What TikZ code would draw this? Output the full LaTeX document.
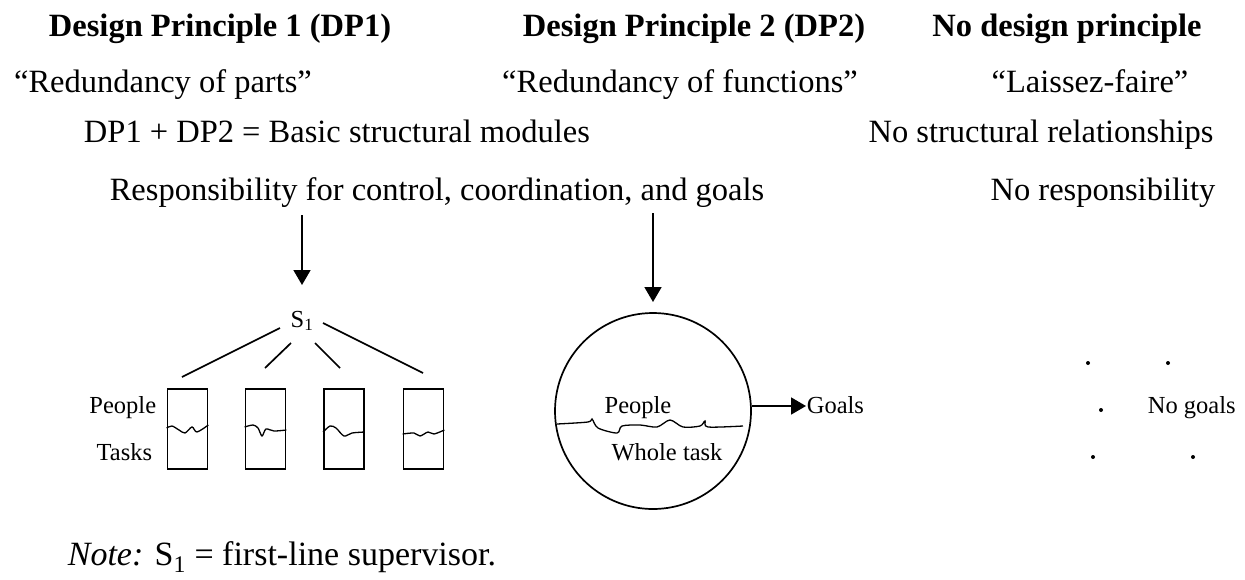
\documentclass[tikz,border=0pt]{standalone}
\usepackage{fontspec}
\setmainfont{Liberation Serif}
\usetikzlibrary{positioning, calc, arrows.meta}

\tikzset{
	big/.style={font=\fontsize{32.5}{39}\selectfont, inner sep=0pt, anchor=base},
	heading/.style={big, font=\fontsize{32.5}{39}\selectfont\bfseries},
	small/.style={font=\fontsize{24.5}{29}\selectfont, inner sep=0pt, anchor=base},
	unitbox/.style={draw, minimum width=40pt, minimum height=80pt, inner sep=0pt},
	dot/.style={circle, fill, inner sep=0pt, minimum size=4pt},
}

\begin{document}
\begin{tikzpicture}[x=1pt, y=-1pt, line width=1.7pt, >={Triangle[length=15pt, width=17pt]}]
		\useasboundingbox (0, 0) rectangle (1245, 579);

		% column heads
		\node[heading] (H1) at (220, 36) {Design Principle 1 (DP1)};
		\node[heading] (H2) at (694, 36) {Design Principle 2 (DP2)};
		\node[heading] (H3) at (1067, 36) {No design principle};

		\node[big] (R1) at (163, 92) {``Redundancy of parts''};
		\node[big] (R2) at (680, 92) {``Redundancy of functions''};
		\node[big] (R3) at (1090, 92) {``Laissez-faire''};

		\node[big] (M12) at (337, 142) {DP1 + DP2 = Basic structural modules};
		\node[big] (M3) at (1041, 142) {No structural relationships};

		\node[big] (C12) at (437, 200) {Responsibility for control, coordination, and goals};
		\node[big] (C3) at (1103, 200) {No responsibility};

		% DP1: supervisor over four units
		\coordinate (A1s) at (302, 215);
		\coordinate (A1e) at (302, 285);
		\draw[->] (A1s) -- (A1e);
		\node[small] (S) at (302, 327) {S\textsubscript{1}};

		\node[unitbox] (U1) at (187.5, 429) {};
		\node[unitbox] (U2) at (265.5, 429) {};
		\node[unitbox] (U3) at (344, 429) {};
		\node[unitbox] (U4) at (423.5, 429) {};

		\coordinate (L1a) at (280, 328);
		\coordinate (L1b) at (182, 377);
		\coordinate (L2a) at (291, 343);
		\coordinate (L2b) at (265, 368);
		\coordinate (L3a) at (315, 343);
		\coordinate (L3b) at (340, 368);
		\coordinate (L4a) at (323, 323);
		\coordinate (L4b) at (423, 373);
		\draw (L1a) -- (L1b);
		\draw (L2a) -- (L2b);
		\draw (L3a) -- (L3b);
		\draw (L4a) -- (L4b);

		\draw[line width=1.3pt] plot[smooth] coordinates {(U1.west |- 0,428) (172, 426) (179, 430) (185, 433) (192, 427) (197, 432) (U1.east |- 0,425)};
		\draw[line width=1.3pt] plot[smooth] coordinates {(U2.west |- 0,427) (253, 425) (258, 428) (262, 436) (266, 429) (274, 431) (U2.east |- 0,430)};
		\draw[line width=1.3pt] plot[smooth] coordinates {(U3.west |- 0,432) (330, 426) (336, 428) (344, 436) (352, 433) (U3.east |- 0,432)};
		\draw[line width=1.3pt] plot[smooth] coordinates {(U4.west |- 0,434) (414, 433) (420, 436) (428, 432) (434, 434) (U4.east |- 0,430)};

		\node[small, anchor=base east] (P1) at (157, 413) {People};
		\node[small, anchor=base east] (T1) at (153, 460) {Tasks};

		% DP2: one group, whole task
		\coordinate (A2s) at (653, 213);
		\coordinate (A2e) at (653, 302);
		\draw[->] (A2s) -- (A2e);
		\node[draw, circle, minimum size=196pt, inner sep=0pt] (G) at (653, 411) {};
		\draw[line width=1.3pt] plot[smooth] coordinates {(557, 424) (588, 422) (592, 419) (598, 428) (617, 433) (622, 426) (640, 425) (657, 427) (670, 420) (683, 427) (700, 426) (705, 421) (708, 427) (743, 426)};
		\node[small] (P2) at (638, 413) {People};
		\node[small] (T2) at (667, 460) {Whole task};
		\node[small, anchor=base west] (Go) at (806, 413) {Goals};
		\draw[->] (G.east |- 0,406) -- (Go.west |- 0,406);

		% no principle: scattered people
		\node[dot] (d1) at (1088, 363) {};
		\node[dot] (d2) at (1168, 363) {};
		\node[dot] (d3) at (1101, 410) {};
		\node[dot] (d4) at (1093, 457) {};
		\node[dot] (d5) at (1193, 457) {};
		\node[small, anchor=base west] (NG) at (1147, 413) {No goals};

		\node[big, anchor=base west, font=\fontsize{34}{40}\selectfont] (N) at (67, 565) {\textit{Note:} S\textsubscript{1} = first-line supervisor.};
	\end{tikzpicture}
\end{document}
